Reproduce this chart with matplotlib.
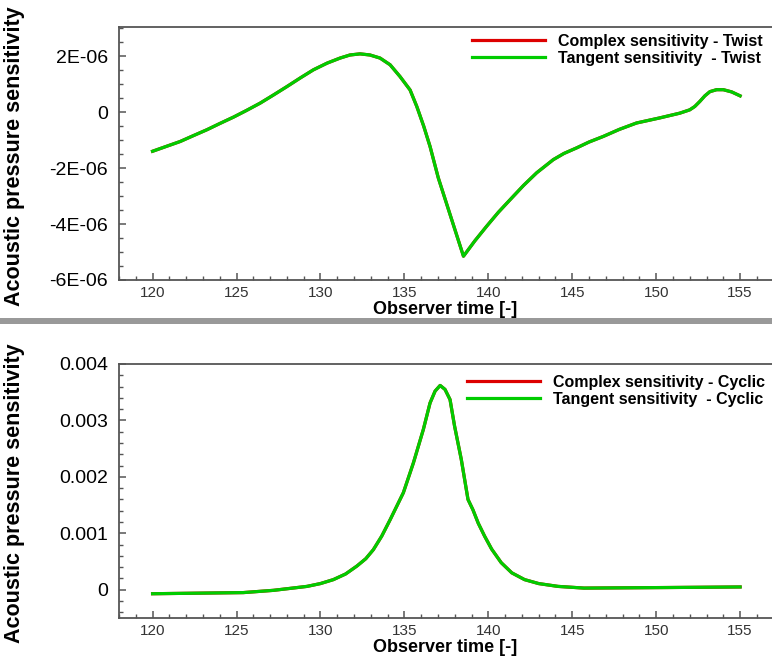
import matplotlib
matplotlib.use('Agg')
import matplotlib.pyplot as plt
from matplotlib.patches import Rectangle
from matplotlib.ticker import MultipleLocator, FuncFormatter

plt.rcParams['font.family'] = ['Liberation Sans', 'DejaVu Sans']

# twist sensitivity (top panel)
t_twist = [120.0, 120.8, 121.65, 122.4, 123.24, 124.0, 124.82, 125.6, 126.41, 127.2,
           128.0, 128.8, 129.58, 130.4, 131.17, 131.76, 132.36, 132.95, 133.55,
           134.15, 134.74, 135.34, 135.74, 136.15, 136.53, 137.02, 138.52, 139.2,
           139.9, 140.6, 141.3, 142.1, 142.88, 143.87, 144.5, 145.26, 146.0, 146.85,
           147.8, 148.83, 150.2, 151.4, 152.0, 152.3, 152.6, 152.9, 153.2, 153.6,
           154.0, 154.5, 155.0]
tangent_twist = [-1.40e-6, -1.23e-6, -1.05e-6, -0.85e-6, -0.63e-6, -0.41e-6, -0.18e-6,
                 0.06e-6, 0.32e-6, 0.61e-6, 0.91e-6, 1.22e-6, 1.51e-6, 1.75e-6,
                 1.93e-6, 2.04e-6, 2.08e-6, 2.04e-6, 1.93e-6, 1.69e-6, 1.27e-6,
                 0.79e-6, 0.20e-6, -0.50e-6, -1.23e-6, -2.35e-6, -5.15e-6, -4.60e-6,
                 -4.08e-6, -3.58e-6, -3.13e-6, -2.62e-6, -2.17e-6, -1.70e-6, -1.48e-6,
                 -1.28e-6, -1.07e-6, -0.87e-6, -0.62e-6, -0.39e-6, -0.21e-6, -0.04e-6,
                 0.08e-6, 0.20e-6, 0.38e-6, 0.58e-6, 0.73e-6, 0.80e-6, 0.80e-6,
                 0.72e-6, 0.58e-6]
complex_twist = list(tangent_twist)

# cyclic sensitivity (bottom panel)
t_cyclic = [120.0, 125.4, 127.2, 129.2, 130.0, 130.77, 131.5, 132.17, 132.7, 133.15,
            133.65, 134.15, 134.94, 135.54, 136.13, 136.53, 136.83, 137.13, 137.42,
            137.72, 137.99, 138.39, 138.79, 139.08, 139.4, 139.78, 140.2, 140.77,
            141.4, 142.16, 143.0, 144.15, 145.7, 150.7, 155.0]
tangent_cyclic = [-0.00007, -0.00005, -0.00001, 0.00006, 0.00011, 0.00018, 0.00028,
                  0.00042, 0.00055, 0.00071, 0.00095, 0.00124, 0.00172, 0.00225,
                  0.00284, 0.00331, 0.00352, 0.00362, 0.00355, 0.00337, 0.0029,
                  0.00231, 0.0016, 0.00142, 0.00118, 0.00095, 0.00072, 0.00048,
                  0.00030, 0.00018, 0.00011, 0.00006, 0.00003, 0.00004, 0.00005]
complex_cyclic = list(tangent_cyclic)

RED = '#dd0000'
GREEN = '#00cc00'
AX_COL = '#555555'

fig = plt.figure(figsize=(7.72, 6.57), dpi=100)
ax1 = fig.add_axes([119/772, 1-280/657, 653/772, 253/657])
ax2 = fig.add_axes([119/772, 1-618/657, 653/772, 254/657])


def sci_fmt(v, pos):
    if abs(v) < 1e-12:
        return '0'
    return '%.0E' % v


def dec_fmt(v, pos):
    if abs(v) < 1e-12:
        return '0'
    return '%.3f' % v


panels = [
    (ax1, t_twist, complex_twist, tangent_twist, 'Twist', (-6e-6, 3.04e-6), 2e-6, 0.5e-6,
     sci_fmt, (353/653, 0.972)),
    (ax2, t_cyclic, complex_cyclic, tangent_cyclic, 'Cyclic', (-0.0005, 0.004), 0.001, 0.0002,
     dec_fmt, (348/653, 0.957)),
]

for ax, t, cplx, tang, name, ylim, major, minor, fmt, anchor in panels:
    ax.plot(t, cplx, color=RED, lw=2.3, label='Complex sensitivity - ' + name)
    ax.plot(t, tang, color=GREEN, lw=2.3, label='Tangent sensitivity  - ' + name)
    ax.set_xlim(118, 156.9)
    ax.set_ylim(*ylim)
    ax.xaxis.set_major_locator(MultipleLocator(5))
    ax.xaxis.set_minor_locator(MultipleLocator(1))
    ax.yaxis.set_major_locator(MultipleLocator(major))
    ax.yaxis.set_minor_locator(MultipleLocator(minor))
    ax.yaxis.set_major_formatter(FuncFormatter(fmt))
    ax.spines['right'].set_visible(False)
    for s in ['left', 'bottom', 'top']:
        ax.spines[s].set_color(AX_COL)
        ax.spines[s].set_linewidth(1.3)
    ax.tick_params(which='both', direction='in', color=AX_COL, top=False, right=False)
    ax.tick_params(which='major', length=5, width=1.1)
    ax.tick_params(which='minor', length=3, width=1.0)
    ax.tick_params(axis='y', which='major', labelsize=14, pad=8, labelcolor='black')
    ax.tick_params(axis='x', which='major', labelsize=11, pad=4, labelcolor='#333333')
    ax.set_xlabel('Observer time [-]', fontsize=13, fontweight='bold', labelpad=1)
    ax.set_ylabel('Acoustic pressure sensitivity', fontsize=15.5, fontweight='bold')
    ax.yaxis.set_label_coords(-0.144, 0.49)
    ax.legend(loc='upper left', bbox_to_anchor=anchor, frameon=False,
              prop={'size': 11.5, 'weight': 'bold'}, handlelength=4.6,
              handletextpad=0.8, labelspacing=0.1, borderpad=0, borderaxespad=0)

# grey separator between the two frames
fig.add_artist(Rectangle((0, 1-324/657), 1, 6/657, transform=fig.transFigure,
                         color='#999999', lw=0))

fig.savefig('out.png', dpi=100)
